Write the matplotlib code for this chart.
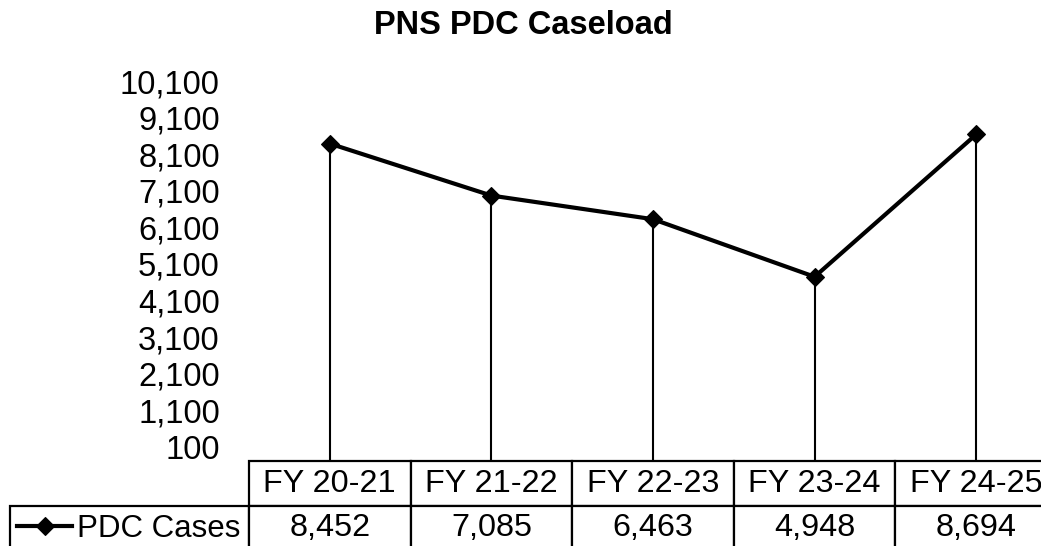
#! /usr/bin/env python

# imports of external packages to use in our code
import numpy as np
import matplotlib
matplotlib.use('Agg')
import matplotlib.pyplot as plt
from matplotlib.table import Table

plt.rcParams['font.family'] = ['Liberation Sans', 'DejaVu Sans']

# chart data
years = ['FY 20-21', 'FY 21-22', 'FY 22-23', 'FY 23-24', 'FY 24-25']
cases = [8452, 7085, 6463, 4948, 8694]
series_name = 'PDC Cases'
yticks = [100, 1100, 2100, 3100, 4100, 5100, 6100, 7100, 8100, 9100, 10100]
title = 'PNS PDC Caseload'

if __name__ == "__main__":
    fig = plt.figure(figsize=(10.41, 5.46), dpi=100)

    # plot area (runs a bit past the right edge, as in the original)
    ax = fig.add_axes([249 / 1041, 85 / 546, 808 / 1041, 380 / 546])
    x = np.arange(len(years))

    # drop lines and the series line
    ax.vlines(x, yticks[0], cases, color='black', lw=1.5)
    line, = ax.plot(x, cases, color='black', lw=3, marker='D', ms=9.5,
                    mec='black', mfc='black', mew=0.8)

    ax.set_xlim(-0.5, len(years) - 0.5)
    ax.set_ylim(yticks[0], yticks[-1])
    ax.set_xticks([])
    ax.set_yticks([])
    for s in ax.spines.values():
        s.set_visible(False)

    # value labels sit slightly off the gridline positions in the original
    lab = fig.add_axes(ax.get_position(), frameon=False)
    lab.set_ylim(-290, 10095)
    lab.set_yticks(yticks)
    lab.set_yticklabels([f'{v:,}' for v in yticks])
    lab.tick_params(axis='y', length=0, pad=21, labelsize=23.5)
    lab.set_xticks([])
    lab.patch.set_visible(False)

    # data table under the plot (bbox covers the value columns only,
    # the row label column hangs off to the left)
    row_h = 45 / 380
    lab_w = 239 / 808
    col_w = 1 / len(years)
    tbl = Table(ax, bbox=[0, -2 * row_h, 1, 2 * row_h])
    for j, yr in enumerate(years):
        tbl.add_cell(0, j, width=col_w, height=row_h, text=yr, loc='center')
        tbl.add_cell(1, j, width=col_w, height=row_h, text=f'{cases[j]:,}',
                     loc='center')
    tbl.add_cell(1, -1, width=lab_w, height=row_h, text='', loc='right')
    tbl.auto_set_font_size(False)
    tbl.set_fontsize(23.3)
    for key, cell in tbl.get_celld().items():
        cell.set_edgecolor('black')
        cell.set_linewidth(1.6)
    ax.add_table(tbl)

    # legend key + series name inside the row label cell
    fig.legend(handles=[line], labels=[series_name], loc='center left',
               bbox_to_anchor=(17 / 1041, 17 / 546), frameon=False,
               fontsize=22.5, handlelength=1.76, handletextpad=0.16,
               borderpad=0, borderaxespad=0)

    fig.suptitle(title, x=0.503, y=1 - 26 / 546, va='center',
                 fontsize=23.5, fontweight='bold')

    plt.savefig('out.png', dpi=100)
